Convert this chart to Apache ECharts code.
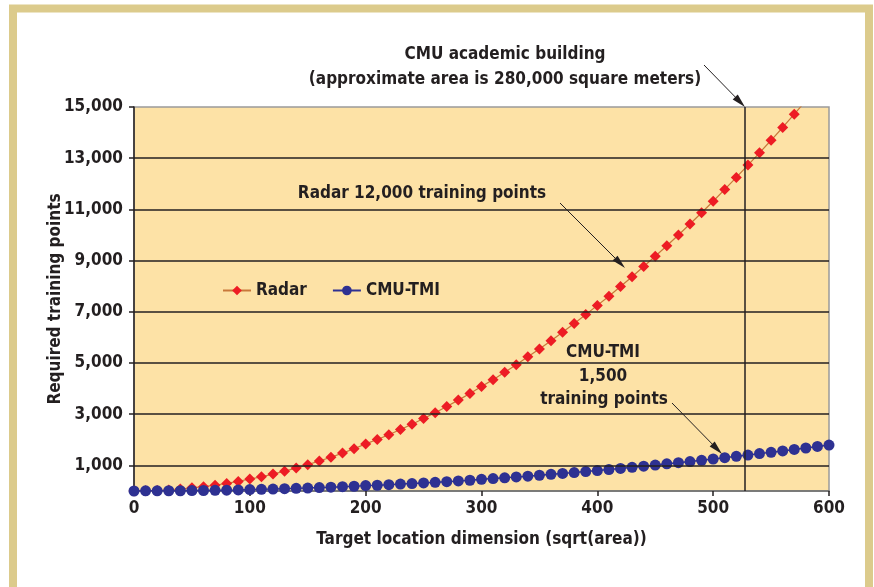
<!DOCTYPE html>
<html>
<head>
<meta charset="utf-8">
<script src="https://cdn.jsdelivr.net/npm/echarts@6/dist/echarts.min.js"></script>
<style>html,body{margin:0;padding:0;background:#fff}#c{width:874px;height:587px}</style>
</head>
<body>
<div id="c"></div>
<script>
// ---- data ----
const radarX = [0,10,20,30,40,50,60,70,80,90,100,110,120,130,140,150,160,170,180,190,200,210,220,230,240,250,260,270,280,290,300,310,320,330,340,350,360,370,380,390,400,410,420,430,440,450,460,470,480,490,500,510,520,530,540,550,560,570,580];
const radarY = [0,5,18,41,75,125,170,225,295,375,470,555,660,775,895,1030,1170,1320,1480,1650,1840,2010,2200,2400,2610,2830,3060,3300,3550,3810,4080,4350,4640,4930,5240,5550,5870,6200,6540,6890,7250,7610,7990,8370,8770,9170,9580,10000,10430,10870,11320,11780,12250,12730,13210,13700,14200,14720,15240];
const tmiX = [0,10,20,30,40,50,60,70,80,90,100,110,120,130,140,150,160,170,180,190,200,210,220,230,240,250,260,270,280,290,300,310,320,330,340,350,360,370,380,390,400,410,420,430,440,450,460,470,480,490,500,510,520,530,540,550,560,570,580,590,600];
const tmiY = [0,5,5,10,10,15,20,25,30,40,55,65,75,90,105,115,135,150,170,185,210,225,245,270,290,315,340,365,395,420,455,485,515,550,580,615,650,685,720,760,800,840,880,925,970,1015,1060,1105,1150,1200,1250,1300,1355,1405,1460,1510,1565,1625,1680,1740,1795];
const yTicks = [1000,3000,5000,7000,9000,11000,13000,15000];
const gridValues = [1000,3000,5000,7000,9000,11000,13000];
const buildingX = 527;
const seriesNames = ['Radar','CMU-TMI'];
const FONT = '"DejaVu Sans Condensed","DejaVu Sans",sans-serif';
const FS = 17;
const INK = '#231f20';

const chart = echarts.init(document.getElementById('c'), null, {renderer:'canvas'});
const txt = (x,y,s) => ({type:'text', x:x, y:y, style:{text:s, font:'bold '+FS+'px '+FONT, fill:INK, textAlign:'center', textVerticalAlign:'middle'}, z:20});
const arrow = (x1,y1,x2,y2) => {
  const dx=x2-x1, dy=y2-y1, L=Math.hypot(dx,dy), ux=dx/L, uy=dy/L;
  const hl=14, hw=3.5;
  const bx=x2-ux*hl, by=y2-uy*hl;
  return [
    {type:'line', shape:{x1:x1,y1:y1,x2:bx,y2:by}, style:{stroke:INK, lineWidth:1}, z:20},
    {type:'polygon', shape:{points:[[x2,y2],[bx-uy*hw,by+ux*hw],[bx+uy*hw,by-ux*hw]]}, style:{fill:INK}, z:20}
  ];
};

chart.setOption({
  animation:false,
  backgroundColor:'#ffffff',
  textStyle:{fontFamily:FONT},
  grid:{left:134, right:45, top:107, bottom:96, show:true, backgroundColor:'#fde2a6', borderColor:'#9a9a9a', borderWidth:1.5},
  legend:{
    left:217, top:277, itemWidth:28, itemHeight:12, itemGap:25,
    textStyle:{fontFamily:FONT, fontSize:FS, fontWeight:'bold', color:INK},
    data:seriesNames
  },
  xAxis:{
    type:'value', min:0, max:600, interval:100,
    name:'Target location dimension (sqrt(area))', nameLocation:'middle', nameGap:40, nameMoveOverlap:false,
    nameTextStyle:{fontFamily:FONT, fontSize:FS, fontWeight:'bold', color:INK},
    axisLine:{show:true, lineStyle:{color:'#6a6a6a', width:1.5}},
    axisTick:{show:true, inside:false, length:5, lineStyle:{color:INK, width:1.5}},
    axisLabel:{fontFamily:FONT, fontSize:FS, fontWeight:'bold', color:INK, margin:9},
    splitLine:{show:false}
  },
  yAxis:{
    type:'value', min:0, max:15000,
    name:'Required training points', nameLocation:'middle', nameGap:70, nameMoveOverlap:false,
    nameTextStyle:{fontFamily:FONT, fontSize:FS, fontWeight:'bold', color:INK},
    axisLine:{show:true, lineStyle:{color:INK, width:1.5}},
    axisTick:{show:true, length:5, customValues:yTicks, lineStyle:{color:INK, width:1.5}},
    axisLabel:{fontFamily:FONT, fontSize:FS, fontWeight:'bold', color:INK, margin:11, customValues:yTicks,
      formatter:v=>v.toLocaleString('en-US')},
    splitLine:{show:false}
  },
  series:[
    {
      name:'Radar', type:'line', clip:true,
      data:radarX.map((x,i)=>[x,radarY[i]]),
      symbol:'diamond', symbolSize:11, showAllSymbol:true,
      itemStyle:{color:'#ed1c24'},
      lineStyle:{color:'#c8783a', width:1.2},
      z:3,
      markLine:{
        silent:true, symbol:'none', animation:false,
        label:{show:false},
        lineStyle:{color:INK, width:1.5, type:'solid'},
        data:gridValues.map(v=>({yAxis:v})).concat([{xAxis:buildingX}])
      }
    },
    {
      name:'CMU-TMI', type:'line', clip:true,
      data:tmiX.map((x,i)=>[x,tmiY[i]]),
      symbol:'circle', symbolSize:11, showAllSymbol:true,
      itemStyle:{color:'#2e3192'},
      lineStyle:{color:'#2e3192', width:1.5},
      z:4
    }
  ],
  graphic:[
    {type:'rect', shape:{x:13, y:8.5, width:856, height:585}, style:{fill:'none', stroke:'#dccb8c', lineWidth:8}, z:1, silent:true},
    txt(505,55,'CMU academic building'),
    txt(505,80,'(approximate area is 280,000 square meters)'),
    txt(422,194,'Radar 12,000 training points'),
    txt(603,353,'CMU-TMI'),
    txt(603,377,'1,500'),
    txt(604,400,'training points'),
    ...arrow(704,65,745,107),
    ...arrow(560,203,625,268),
    ...arrow(672,403,722,454)
  ]
});
</script>
</body>
</html>
